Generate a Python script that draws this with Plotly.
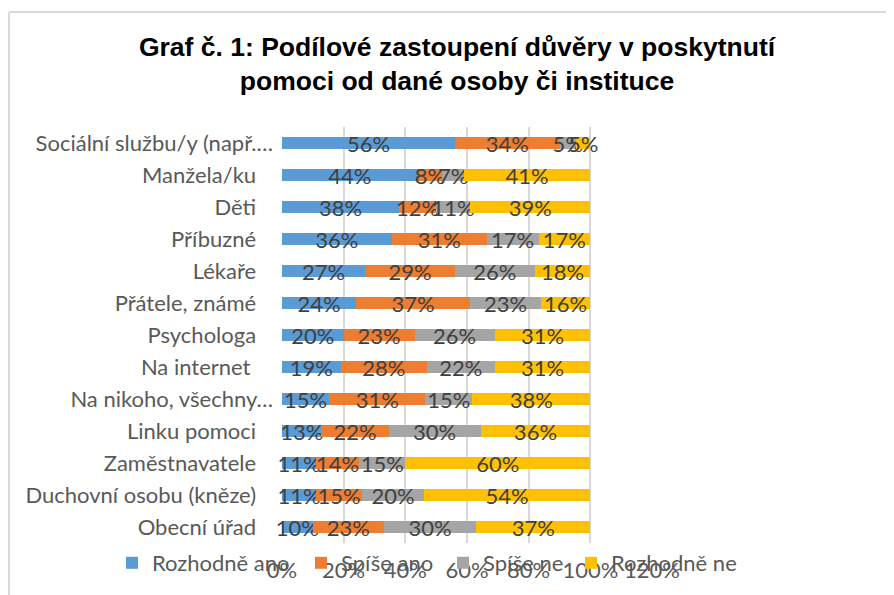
import plotly.graph_objects as go

categories = [
    "Sociální službu/y (např.…",
    "Manžela/ku",
    "Děti",
    "Příbuzné",
    "Lékaře",
    "Přátele, známé",
    "Psychologa",
    "Na internet ",
    "Na nikoho, všechny…",
    "Linku pomoci",
    "Zaměstnavatele",
    "Duchovní osobu (kněze)",
    "Obecní úřad",
]

rozhodne_ano = [0.562, 0.44, 0.38, 0.356, 0.27, 0.24, 0.20, 0.19, 0.153, 0.128, 0.11, 0.11, 0.10]
spise_ano    = [0.338, 0.08, 0.12, 0.308, 0.29, 0.37, 0.23, 0.28, 0.312, 0.218, 0.14, 0.15, 0.23]
spise_ne     = [0.054, 0.07, 0.11, 0.168, 0.26, 0.23, 0.26, 0.22, 0.152, 0.298, 0.15, 0.20, 0.30]
rozhodne_ne  = [0.046, 0.41, 0.39, 0.168, 0.18, 0.16, 0.31, 0.31, 0.383, 0.356, 0.60, 0.54, 0.37]

series_names = ["Rozhodně ano", "Spíše ano", "Spíše ne", "Rozhodně ne"]
series_values = [rozhodne_ano, spise_ano, spise_ne, rozhodne_ne]
series_colors = ["#5B9BD5", "#ED7D31", "#A5A5A5", "#FFC000"]

x_tickvals = [0, 0.2, 0.4, 0.6, 0.8, 1.0, 1.2]
x_ticktext = ["0%", "20%", "40%", "60%", "80%", "100%", "120%"]

title_text = "<b>Graf č. 1: Podílové zastoupení důvěry v poskytnutí<br>pomoci od dané osoby či instituce</b>"

tick_labels = [c if c.endswith("…") else c + "\u00a0\u00a0\u00a0" for c in categories]

FONT = "Lato"
FS = 22
OFF = 8                      # default page body margin
W, H = 894 - OFF, 595 - OFF  # figure size inside the page
# plot area in page pixels: x 282..652, y 127..543
L = 282 - OFF
R = W - (652 - OFF)
T = 127 - OFF
B = H - (543 - OFF)
pw, ph = W - L - R, H - T - B

def px_to_paper_x(px):
    return (px - L) / pw

def px_to_paper_y(py):
    return (H - B - py) / ph

# left page pixel of each legend marker in the original
legend_marker_px = [130, 319, 461, 589]

fig = go.Figure()
legend_layouts = {}
for i, (name, vals, col) in enumerate(zip(series_names, series_values, series_colors)):
    lg = "legend" if i == 0 else f"legend{i+1}"
    fig.add_trace(go.Bar(
        name=name, y=categories, x=vals, orientation="h",
        marker=dict(color=col, line=dict(width=0)),
        text=[f"{round(v*100):.0f}%" for v in vals],
        textposition="inside", insidetextanchor="middle", textangle=0,
        constraintext="none", cliponaxis=False,
        textfont=dict(family=FONT, size=FS, color="#404040"),
        legend=lg,
    ))
    legend_layouts[lg] = dict(
        orientation="h", xref="container", yref="container",
        x=(legend_marker_px[i] - 26) / W, xanchor="left",
        y=1 - (563 - OFF) / H, yanchor="middle",
        font=dict(family=FONT, size=FS, color="#595959"),
        itemwidth=30, bgcolor="rgba(0,0,0,0)",
    )

fig.update_layout(
    width=W, height=H,
    barmode="stack", bargap=0.6,
    margin=dict(l=L, r=R, t=T, b=B, autoexpand=False),
    paper_bgcolor="white", plot_bgcolor="white",
    title=dict(text=title_text, x=(457 - OFF) / W, xanchor="center", y=1 - 48 / H, yanchor="top",
               font=dict(family="Liberation Sans", size=26.5, color="#000000")),
    uniformtext=dict(mode="show", minsize=FS),
    showlegend=True,
    xaxis=dict(range=[0, 1.2], tickvals=x_tickvals, ticktext=x_ticktext,
               showgrid=True, gridcolor="#D9D9D9", gridwidth=2,
               zeroline=False, showline=False, ticks="", automargin=False,
               ticklabelstandoff=12,
               tickfont=dict(family=FONT, size=FS, color="#595959")),
    yaxis=dict(type="category", categoryorder="array", categoryarray=categories,
               tickvals=categories, ticktext=tick_labels, automargin=False,
               autorange="reversed", showgrid=False, zeroline=False, showline=False,
               ticks="", ticklabelstandoff=8,
               tickfont=dict(family=FONT, size=FS, color="#595959")),
    shapes=[
        dict(type="line", xref="paper", yref="paper",
             x0=px_to_paper_x(1), x1=px_to_paper_x(1),
             y0=px_to_paper_y(4), y1=px_to_paper_y(H + 5),
             line=dict(color="#D9D9D9", width=2)),
        dict(type="line", xref="paper", yref="paper",
             x0=px_to_paper_x(1), x1=px_to_paper_x(W + 5),
             y0=px_to_paper_y(4), y1=px_to_paper_y(4),
             line=dict(color="#D9D9D9", width=2)),
    ],
    **legend_layouts,
)

fig.write_html("out.html")
